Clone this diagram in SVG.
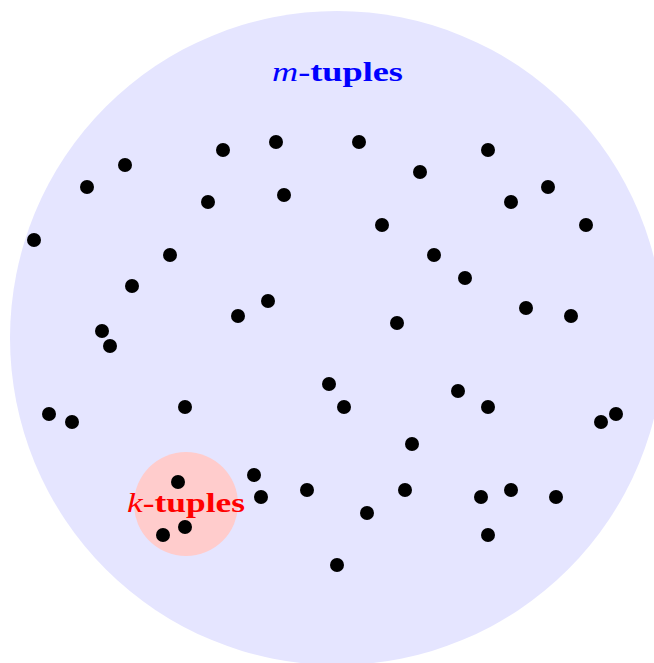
<svg xmlns="http://www.w3.org/2000/svg" width="654" height="663" viewBox="0 0 654 663">
<style>
.dot{fill:#000}
.lbl{font-family:"Liberation Serif","Times New Roman",serif;font-size:27px;font-weight:bold}
.it{font-style:italic;font-weight:normal}
</style>
<rect width="654" height="663" fill="#fff"/>
<g id="m-tuples">
<circle cx="337" cy="338" r="327" fill="#e5e5ff"/>
<text class="lbl" x="272" y="81" fill="#0000ff" textLength="131" lengthAdjust="spacingAndGlyphs"><tspan class="it">m</tspan>-tuples</text>
</g>
<g id="k-tuples">
<circle cx="186" cy="504" r="52" fill="#ffcccc"/>
<text class="lbl" x="127" y="512" fill="#ff0000" textLength="118" lengthAdjust="spacingAndGlyphs"><tspan class="it">k</tspan>-tuples</text>
</g>
<g id="dots" class="dot">
<circle cx="34" cy="240" r="7"/>
<circle cx="87" cy="187" r="7"/>
<circle cx="125" cy="165" r="7"/>
<circle cx="223" cy="150" r="7"/>
<circle cx="276" cy="142" r="7"/>
<circle cx="359" cy="142" r="7"/>
<circle cx="488" cy="150" r="7"/>
<circle cx="420" cy="172" r="7"/>
<circle cx="548" cy="187" r="7"/>
<circle cx="511" cy="202" r="7"/>
<circle cx="208" cy="202" r="7"/>
<circle cx="284" cy="195" r="7"/>
<circle cx="382" cy="225" r="7"/>
<circle cx="586" cy="225" r="7"/>
<circle cx="170" cy="255" r="7"/>
<circle cx="434" cy="255" r="7"/>
<circle cx="465" cy="278" r="7"/>
<circle cx="132" cy="286" r="7"/>
<circle cx="268" cy="301" r="7"/>
<circle cx="238" cy="316" r="7"/>
<circle cx="526" cy="308" r="7"/>
<circle cx="571" cy="316" r="7"/>
<circle cx="397" cy="323" r="7"/>
<circle cx="102" cy="331" r="7"/>
<circle cx="110" cy="346" r="7"/>
<circle cx="329" cy="384" r="7"/>
<circle cx="344" cy="407" r="7"/>
<circle cx="458" cy="391" r="7"/>
<circle cx="488" cy="407" r="7"/>
<circle cx="185" cy="407" r="7"/>
<circle cx="49" cy="414" r="7"/>
<circle cx="72" cy="422" r="7"/>
<circle cx="601" cy="422" r="7"/>
<circle cx="616" cy="414" r="7"/>
<circle cx="412" cy="444" r="7"/>
<circle cx="178" cy="482" r="7"/>
<circle cx="254" cy="475" r="7"/>
<circle cx="261" cy="497" r="7"/>
<circle cx="307" cy="490" r="7"/>
<circle cx="405" cy="490" r="7"/>
<circle cx="367" cy="513" r="7"/>
<circle cx="481" cy="497" r="7"/>
<circle cx="511" cy="490" r="7"/>
<circle cx="556" cy="497" r="7"/>
<circle cx="185" cy="527" r="7"/>
<circle cx="163" cy="535" r="7"/>
<circle cx="488" cy="535" r="7"/>
<circle cx="337" cy="565" r="7"/>
</g>
</svg>
